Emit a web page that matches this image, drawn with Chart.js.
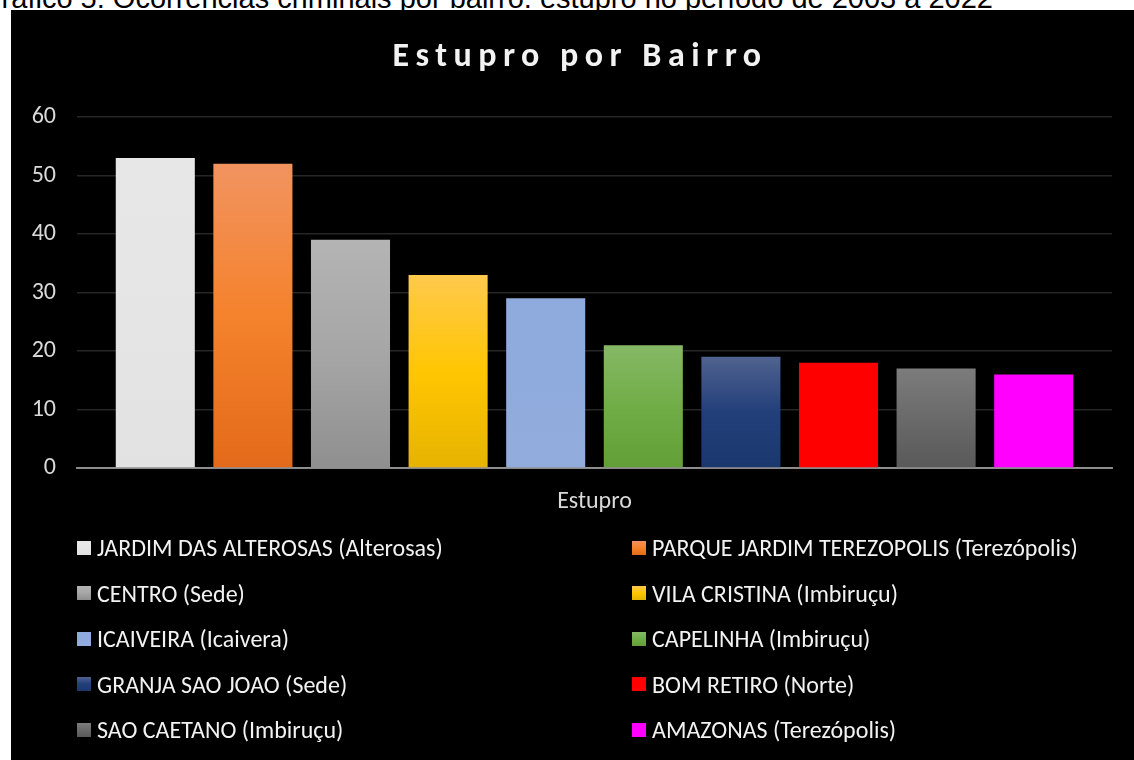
<!DOCTYPE html>
<html lang="pt-BR">
<head>
<meta charset="utf-8">
<title>Estupro por Bairro</title>
<script src="https://cdn.jsdelivr.net/npm/chart.js@4.4.1/dist/chart.umd.min.js"></script>
<style>
  body { margin: 0; width: 1134px; height: 760px; overflow: hidden; position: relative; background: #fff; }
  #caption {
    position: absolute; right: 141px; top: -16px;
    font: 29px/29px 'Liberation Sans', Arial, sans-serif; color: #000; white-space: nowrap;
  }
  #box { position: absolute; left: 11px; top: 10px; width: 1123px; height: 750px; background: #000; }
  #title {
    position: absolute; left: 0; top: 28px; width: 100%; text-align: center;
    font: bold 34px/34px Carlito, Lato, sans-serif; letter-spacing: 6.5px; color: #f2f2f2;
    padding-left: 15px; box-sizing: border-box;
  }
  #chart { position: absolute; left: 0; top: 0; }
  #legend {
    position: absolute; left: 66px; top: 515px;
    display: grid; grid-template-columns: 555px 490px; grid-auto-rows: 45.5px;
    font: 24px Carlito, Lato, sans-serif; color: #f2f2f2;
  }
  .item { display: flex; align-items: center; white-space: nowrap; }
  .mark { width: 14px; height: 14px; margin-right: 6px; flex: none; }
</style>
</head>
<body>
<div id="caption">Gráfico 5: Ocorrências criminais por bairro: estupro no período de 2003 a 2022</div>
<div id="box">
  <canvas id="chart" width="1123" height="520"></canvas>
  <div id="title">Estupro por Bairro</div>
  <div id="legend"></div>
</div>
<script>
// Dados
const categorias = ['Estupro'];
const bairros = [
    'JARDIM DAS ALTEROSAS (Alterosas)',
    'PARQUE JARDIM TEREZOPOLIS (Terezópolis)',
    'CENTRO (Sede)',
    'VILA CRISTINA (Imbiruçu)',
    'ICAIVEIRA (Icaivera)',
    'CAPELINHA (Imbiruçu)',
    'GRANJA SAO JOAO (Sede)',
    'BOM RETIRO (Norte)',
    'SAO CAETANO (Imbiruçu)',
    'AMAZONAS (Terezópolis)'
];
const valores = [53, 52, 39, 33, 29, 21, 19, 18, 17, 16];
const ticksY = [0, 10, 20, 30, 40, 50, 60];

// Cores (topo, meio, base) - gradiente vertical
const cores = [
    ['#e7e7e7', '#e5e5e5', '#e2e2e2'],
    ['#f19360', '#f5822c', '#e36a1a'],
    ['#b4b4b4', '#a6a6a6', '#8f8f8f'],
    ['#ffc94d', '#ffc602', '#e6b300'],
    ['#8faadc', '#8faadc', '#91acdd'],
    ['#86b865', '#70ad47', '#62a036'],
    ['#50628f', '#223f7a', '#1a386e'],
    ['#ff0000', '#ff0000', '#ff0000'],
    ['#7c7c7c', '#6a6a6a', '#595959'],
    ['#ff00ff', '#ff00ff', '#ff00ff']
];

function gradiente(ctx) {
    const stops = cores[ctx.datasetIndex];
    const chart = ctx.chart;
    if (ctx.type !== 'data' || !chart.chartArea) return stops[1];
    const y = chart.scales.y;
    const top = y.getPixelForValue(ctx.raw);
    const bottom = y.getPixelForValue(0);
    const g = chart.ctx.createLinearGradient(0, top, 0, bottom);
    g.addColorStop(0, stops[0]);
    g.addColorStop(0.5, stops[1]);
    g.addColorStop(1, stops[2]);
    return g;
}

const datasets = bairros.map((nome, i) => ({
    label: nome,
    data: [valores[i]],
    backgroundColor: gradiente,
    borderWidth: 0
}));

new Chart(document.getElementById('chart'), {
    type: 'bar',
    data: { labels: categorias, datasets: datasets },
    options: {
        responsive: false,
        animation: false,
        barPercentage: 0.81,
        categoryPercentage: 0.943,
        layout: { padding: { top: 107, right: 22, left: 0, bottom: 0 } },
        scales: {
            y: {
                min: 0,
                max: 60,
                afterBuildTicks: s => { s.ticks = ticksY.map(v => ({ value: v })); },
                afterFit: s => { s.width = 66; },
                ticks: {
                    color: '#d9d9d9',
                    padding: 21,
                    font: { family: 'Carlito, Lato, sans-serif', size: 24 }
                },
                grid: { color: '#262626', lineWidth: 1.5, drawTicks: false },
                border: { display: false }
            },
            x: {
                z: 1,
                afterFit: s => { s.height = 62; },
                ticks: {
                    color: '#d9d9d9',
                    padding: 12,
                    font: { family: 'Carlito, Lato, sans-serif', size: 24 }
                },
                grid: { display: false },
                border: { color: 'rgba(190,190,190,0.7)', width: 2 }
            }
        },
        plugins: {
            legend: { display: false },
            title: { display: false },
            tooltip: { enabled: false }
        }
    }
});

// Legenda em duas colunas
const legend = document.getElementById('legend');
bairros.forEach((nome, i) => {
    const item = document.createElement('div');
    item.className = 'item';
    const mark = document.createElement('span');
    mark.className = 'mark';
    mark.style.background = `linear-gradient(${cores[i][0]}, ${cores[i][1]}, ${cores[i][2]})`;
    const txt = document.createElement('span');
    txt.textContent = nome;
    item.appendChild(mark);
    item.appendChild(txt);
    legend.appendChild(item);
});
</script>
</body>
</html>
